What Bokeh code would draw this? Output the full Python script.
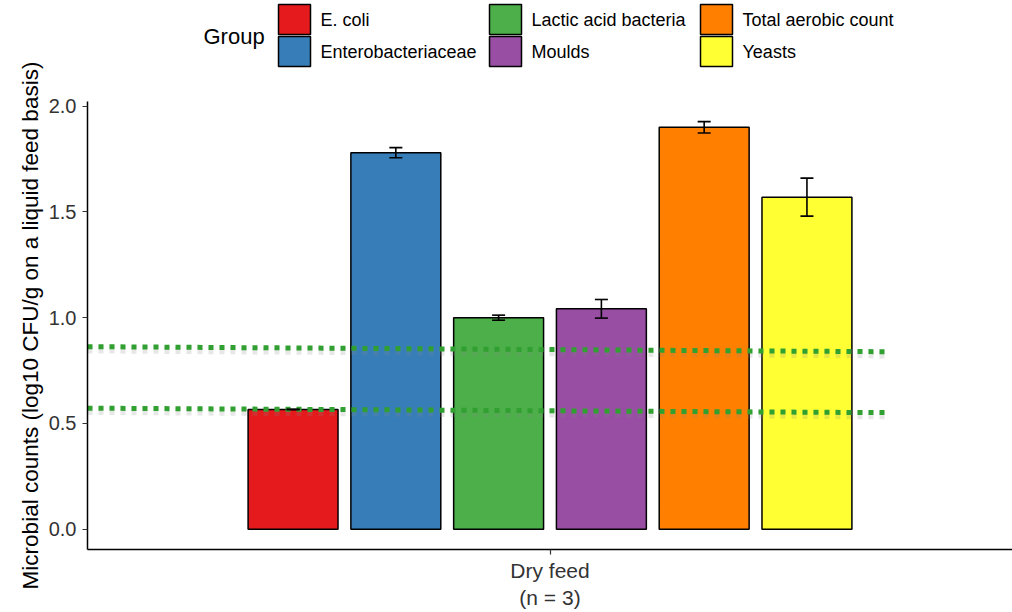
import math
from bokeh.plotting import figure
from bokeh.layouts import column, row
from bokeh.models import (ColumnDataSource, Range1d, FixedTicker, PrintfTickFormatter,
                          Whisker, TeeHead)
from bokeh.core.properties import value
from bokeh.embed import file_html
from bokeh.resources import INLINE

# ---- data -------------------------------------------------------------
groups = ["E. coli", "Enterobacteriaceae", "Lactic acid bacteria",
          "Moulds", "Total aerobic count", "Yeasts"]
means = [0.566, 1.780, 1.000, 1.042, 1.900, 1.570]
errors = [0.0, 0.024, 0.012, 0.044, 0.027, 0.090]
colors = ["#E41A1C", "#377EB8", "#4DAF4A", "#984EA3", "#FF7F00", "#FFFF33"]

feed_label = "Dry feed\n(n = 3)"
y_ticks = [0.0, 0.5, 1.0, 1.5, 2.0]
y_title = "Microbial counts (log10 CFU/g on a liquid feed basis)"

# dotted reference lines (start / end values)
ref_x = [0.4, 1.434]
ref_start = [0.863, 0.572]
ref_end = [0.839, 0.551]

FONT = "Liberation Sans"
LEFT_STRIP = 45          # width of the strip holding the y-axis title
W = 1012 - LEFT_STRIP

# ---- y-axis title strip (pixel coordinates, y downwards) ---------------
ylab = figure(width=LEFT_STRIP, height=612, x_range=Range1d(0, LEFT_STRIP),
              y_range=Range1d(612, 0), output_backend="svg", toolbar_location=None,
              min_border=0, outline_line_color=None)
ylab.axis.visible = False
ylab.grid.visible = False
ylab.text(x=[30], y=[325], text=[y_title], angle=math.pi / 2,
          text_font=value(FONT), text_font_size="22.5px", text_color="black",
          text_align="center", text_baseline="middle")

# ---- legend strip (pixel coordinates, frame spans 87..1012) ------------
leg = figure(width=W, height=70, x_range=Range1d(87, 1012), y_range=Range1d(70, 0),
             output_backend="svg", toolbar_location=None,
             min_border=0, min_border_left=87 - LEFT_STRIP, min_border_right=0,
             outline_line_color=None)
leg.axis.visible = False
leg.grid.visible = False

col_x = [278, 489, 700]
row_y = [4, 36]
kx0, ky0, kx1, ky1, tx, ty = [], [], [], [], [], []
for i, g in enumerate(groups):
    c, r = divmod(i, 2)
    kx0.append(col_x[c]); kx1.append(col_x[c] + 32)
    ky0.append(row_y[r]); ky1.append(row_y[r] + 30)
    tx.append(col_x[c] + 42); ty.append(row_y[r] + 15)
leg.quad(left=kx0, right=kx1, top=ky0, bottom=ky1, fill_color=colors,
         line_color="black", line_width=1.5)
leg.text(x=tx, y=ty, text=groups, text_font=value(FONT), text_font_size="18px",
         text_baseline="middle", text_align="left", text_color="black")
leg.text(x=[203], y=[36], text=["Group"], text_font=value(FONT), text_font_size="22px",
         text_baseline="middle", text_align="left", text_color="black")

# ---- main chart --------------------------------------------------------
p = figure(width=W, height=542, x_range=Range1d(0.4, 1.6),
           y_range=Range1d(-0.0963, 2.0223),
           output_backend="svg", toolbar_location=None,
           min_border_left=87 - LEFT_STRIP, min_border_right=0, min_border_top=31,
           min_border_bottom=63, outline_line_color=None)
p.grid.visible = False

slot = 0.8 / len(groups)
xs = [1 + (i - (len(groups) - 1) / 2) * slot for i in range(len(groups))]
src = ColumnDataSource(dict(
    x=xs, top=means, color=colors, name=groups,
    upper=[m + e for m, e in zip(means, errors)],
    lower=[m - e for m, e in zip(means, errors)],
))
p.vbar(x="x", top="top", bottom=0, width=slot * 0.875, fill_color="color",
       line_color="black", line_width=1.5, source=src)

wh = Whisker(base="x", upper="upper", lower="lower", source=src,
             line_color="black", line_width=1.6, level="annotation",
             upper_head=TeeHead(size=13, line_width=1.6, line_color="black"),
             lower_head=TeeHead(size=13, line_width=1.6, line_color="black"))
p.add_layout(wh)

# soft shadow under the dotted lines, then the dotted lines themselves
for y0, y1 in zip(ref_start, ref_end):
    p.segment(x0=[ref_x[0]], y0=[y0 - 0.013], x1=[ref_x[1]], y1=[y1 - 0.013],
              line_color="#888888", line_alpha=0.2, line_width=8,
              line_dash="5 6", line_cap="butt")
    p.segment(x0=[ref_x[0]], y0=[y0], x1=[ref_x[1]], y1=[y1],
              line_color="#30a030", line_width=5, line_dash="5 6", line_cap="butt")

# axes
p.yaxis.ticker = FixedTicker(ticks=y_ticks)
p.yaxis.formatter = PrintfTickFormatter(format="%.1f")
p.yaxis.minor_tick_line_color = None
p.xaxis.ticker = FixedTicker(ticks=[1])
p.xaxis.major_label_overrides = {1: feed_label}
p.xaxis.minor_tick_line_color = None

for ax in (p.xaxis, p.yaxis):
    ax.axis_line_color = "black"
    ax.axis_line_width = 1.5
    ax.major_tick_line_color = "#333333"
    ax.major_tick_line_width = 1.2
    ax.major_tick_out = 5
    ax.major_tick_in = 0
    ax.major_label_text_font = FONT
    ax.major_label_text_color = "#333333"

p.yaxis.major_label_standoff = 6
p.xaxis.major_label_standoff = 4
p.yaxis.major_label_text_font_size = "20px"
p.xaxis.major_label_text_font_size = "21px"

layout = row(ylab, column(leg, p, spacing=0), spacing=0)
open("out.html", "w").write(file_html(layout, INLINE))
